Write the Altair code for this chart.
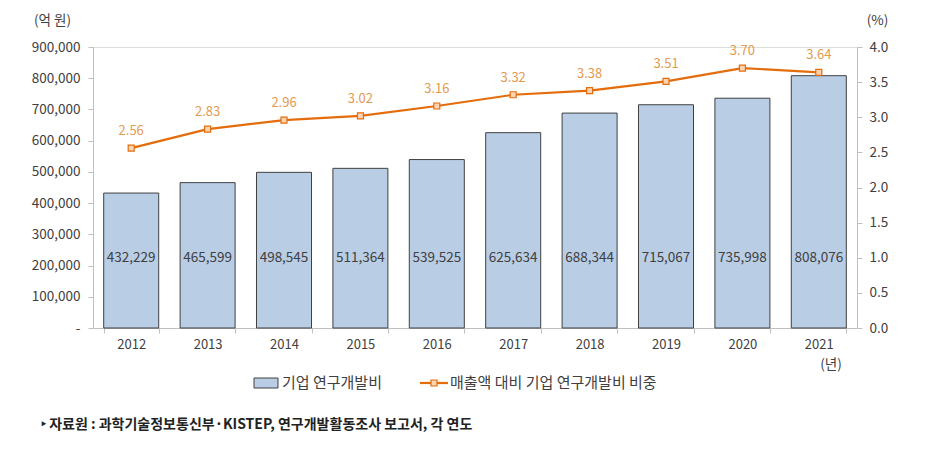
import altair as alt
import pandas as pd

years = ["2012", "2013", "2014", "2015", "2016", "2017", "2018", "2019", "2020", "2021"]
rnd = [432229, 465599, 498545, 511364, 539525, 625634, 688344, 715067, 735998, 808076]
ratio = [2.56, 2.83, 2.96, 3.02, 3.16, 3.32, 3.38, 3.51, 3.70, 3.64]

df = pd.DataFrame({"year": years, "rnd": rnd, "ratio": ratio})
df["rnd_label"] = [f"{v:,}" for v in rnd]
df["ratio_label"] = [f"{v:.2f}" for v in ratio]

FONT = "Noto Sans CJK KR"
W, H = 764, 281
ORANGE = "#E46C0A"
TXT = "#404040"
FS = 13.5

x = alt.X("year:N", title=None,
          scale=alt.Scale(paddingInner=0.28, paddingOuter=0.14),
          axis=alt.Axis(labelAngle=0, tickBand="extent", domainColor="#bfbfbf",
                        tickColor="#bfbfbf", tickSize=5, labelPadding=5,
                        labelFont=FONT, labelFontSize=13, labelColor=TXT))

bars = alt.Chart(df).mark_bar(color="#B9CDE5", stroke="#404040", strokeWidth=1).encode(
    x=x,
    y=alt.Y("rnd:Q", scale=alt.Scale(domain=[0, 900000]),
            axis=alt.Axis(values=list(range(0, 900001, 100000)),
                          labelExpr="datum.value == 0 ? '-' : format(datum.value, ',')",
                          title="(억 원)", titleAngle=0, titleX=-41, titleY=-27,
                          titleAlign="center", titleBaseline="middle",
                          titleFont=FONT, titleFontSize=FS, titleFontWeight="normal", titleColor=TXT,
                          grid=False, domainColor="#bfbfbf", tickColor="#bfbfbf", tickSize=5,
                          labelPadding=8, labelFont=FONT, labelFontSize=FS, labelColor=TXT)),
)

bar_text = alt.Chart(df).mark_text(font=FONT, fontSize=FS, color=TXT).encode(
    x="year:N", y=alt.value(211), text="rnd_label:N")

yr = alt.Y("ratio:Q", scale=alt.Scale(domain=[0, 4]),
           axis=alt.Axis(orient="right", values=[0, 0.5, 1, 1.5, 2, 2.5, 3, 3.5, 4], format=".1f",
                         title="(%)", titleAngle=0, titleX=20, titleY=-27,
                         titleAlign="center", titleBaseline="middle",
                         titleFont=FONT, titleFontSize=FS, titleFontWeight="normal", titleColor=TXT,
                         grid=False, domainColor="#bfbfbf", tickColor="#bfbfbf", tickSize=5,
                         labelPadding=7, labelFont=FONT, labelFontSize=FS, labelColor=TXT))

line = alt.Chart(df).mark_line(color=ORANGE, strokeWidth=2.2).encode(x="year:N", y=yr)
pts = alt.Chart(df).mark_point(shape="square", filled=True, fill="#FCD5B5", stroke=ORANGE,
                               strokeWidth=1.2, size=36, opacity=1).encode(x="year:N", y=yr)
line_text = alt.Chart(df).mark_text(font=FONT, fontSize=13, color="#E39A50", dy=-17).encode(
    x="year:N", y=yr, text="ratio_label:N")

right = alt.layer(line, pts, line_text)

# legend & notes (decoration)
one = pd.DataFrame({"k": [0]})
leg_rect = alt.Chart(one).mark_rect(color="#B9CDE5", stroke="#404040", strokeWidth=1).encode(
    x=alt.value(161), x2=alt.value(185), y=alt.value(331), y2=alt.value(341))
leg_t1 = alt.Chart(one).mark_text(font=FONT, fontSize=15, color=TXT, align="left", baseline="middle").encode(
    x=alt.value(189), y=alt.value(336), text=alt.value("기업 연구개발비"))
leg_line = alt.Chart(one).mark_rule(color=ORANGE, strokeWidth=2.2).encode(
    x=alt.value(327), x2=alt.value(355), y=alt.value(336))
leg_pt = alt.Chart(one).mark_point(shape="square", filled=True, fill="#FCD5B5", stroke=ORANGE,
                                   strokeWidth=1.2, size=36, opacity=1).encode(x=alt.value(341), y=alt.value(336))
leg_t2 = alt.Chart(one).mark_text(font=FONT, fontSize=15, color=TXT, align="left", baseline="middle").encode(
    x=alt.value(357), y=alt.value(336), text=alt.value("매출액 대비 기업 연구개발비 비중"))
unit = alt.Chart(one).mark_text(font=FONT, fontSize=FS, color=TXT, baseline="middle").encode(
    x=alt.value(738), y=alt.value(318), text=alt.value("(년)"))
src = alt.Chart(one).mark_text(font=FONT, fontSize=14, fontWeight="bold", color="#222222",
                               align="left", baseline="middle").encode(
    x=alt.value(-52), y=alt.value(378),
    text=alt.value("‣ 자료원 : 과학기술정보통신부·KISTEP, 연구개발활동조사 보고서, 각 연도"))

deco = alt.layer(leg_rect, leg_t1, leg_line, leg_pt, leg_t2, unit, src)

chart = alt.layer(alt.layer(bars, bar_text), right, deco).resolve_scale(y="independent").properties(
    width=W, height=H,
    autosize=alt.AutoSizeParams(type="none"),
    padding={"left": 85, "top": 39, "right": 62, "bottom": 122},
).configure_view(stroke=None).configure(background="white")

chart.save("out.html", embed_options={"renderer": "svg", "actions": False})
